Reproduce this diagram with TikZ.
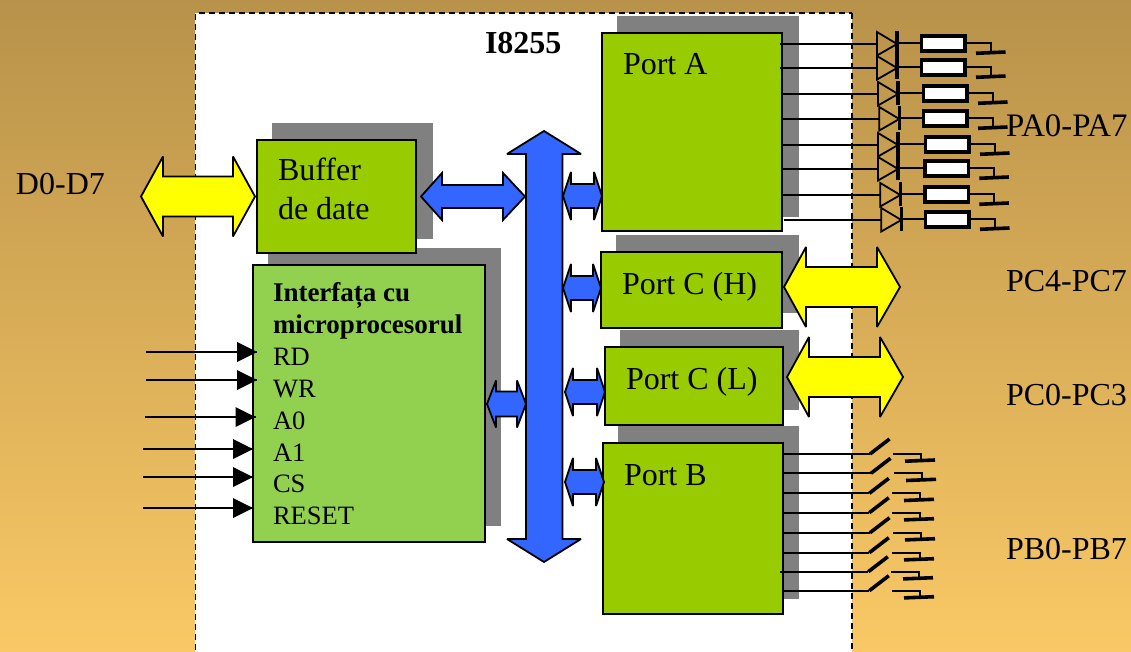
\documentclass[tikz,border=0pt]{standalone}
\usepackage{fontspec}
\setmainfont{Liberation Serif}
\definecolor{bgtop}{RGB}{184,146,74}
\definecolor{bgbot}{RGB}{250,201,102}
\definecolor{shadowgray}{RGB}{128,128,128}
\definecolor{boxgreen}{RGB}{153,204,0}
\definecolor{ifgreen}{RGB}{146,208,80}
\definecolor{busblue}{RGB}{51,102,255}
\definecolor{arrowyellow}{RGB}{255,255,0}
\tikzset{
  block/.style={draw=black,line width=1.8pt,anchor=north west,inner sep=0pt,outer sep=0pt},
  shadowbox/.style={fill=shadowgray,draw=none,anchor=north west,inner sep=0pt,outer sep=0pt},
  lbl/.style={anchor=base west,inner sep=0pt,outer sep=0pt,font=\fontsize{32}{32}\selectfont},
  sml/.style={anchor=base west,inner sep=0pt,outer sep=0pt,font=\fontsize{26.5}{26.5}\selectfont},
  wire/.style={draw=black,line width=1.8pt},
  heavy/.style={draw=black,line width=3.6pt},
  bigarrow/.style={draw=black,line width=1.8pt,line join=miter,miter limit=3},
}
% x0 base0 base1 x1 yc headhalf shafthalf colour
\newcommand{\dblarrow}[8]{%
  \path[bigarrow,fill=#8] (#1,#5) -- (#2,#5-#6) -- (#2,#5-#7) -- (#3,#5-#7) -- (#3,#5-#6)
   -- (#4,#5) -- (#3,#5+#6) -- (#3,#5+#7) -- (#2,#5+#7) -- (#2,#5+#6) -- cycle;}
\newcommand{\shbox}[6]{% name x0 y0 x1 y1 style
  \node[#6,minimum width=#4pt-#2pt,minimum height=#5pt-#3pt] (#1) at (#2,#3) {};}
\begin{document}
\begin{tikzpicture}[x=1pt,y=-1pt]
\useasboundingbox (0,0) rectangle (1131,652);
\fill[top color=bgtop,bottom color=bgbot] (0,0) rectangle (1131,652);
\fill[white] (195,13) rectangle (852,652);
\draw[black,line width=1.6pt,dash pattern=on 6pt off 4pt] (195.5,660) -- (195.5,13) -- (852,13);
\draw[black,line width=2.4pt,dash pattern=on 6pt off 4pt] (852,13) -- (852,660);
% shadows
\shbox{sA}{617}{16}{799}{217}{shadowbox,fill=shadowgray}
\shbox{sH}{616}{235}{799}{313}{shadowbox,fill=shadowgray}
\shbox{sL}{620}{330}{799}{410}{shadowbox,fill=shadowgray}
\shbox{sB}{618}{426}{799}{599}{shadowbox,fill=shadowgray}
\shbox{sBuf}{272}{123}{433}{239}{shadowbox,fill=shadowgray}
\shbox{sIf}{268}{248}{501}{526}{shadowbox,fill=shadowgray}
% blocks
\shbox{portA}{602}{33}{782}{231}{block,fill=boxgreen}
\shbox{portH}{601}{252}{782}{328}{block,fill=boxgreen}
\shbox{portL}{605}{347}{783}{425}{block,fill=boxgreen}
\shbox{portB}{603}{443}{783}{614}{block,fill=boxgreen}
\shbox{buf}{257}{140}{416}{253}{block,fill=boxgreen}
\shbox{intf}{253}{265}{485}{542}{block,fill=ifgreen}
% large arrows
\dblarrow{141}{163}{233}{255}{196.5}{40}{20}{arrowyellow}
\dblarrow{784}{806}{877}{900}{287}{40}{20}{arrowyellow}
\dblarrow{787}{809}{880}{903}{377}{40}{20}{arrowyellow}
\dblarrow{421}{442}{503}{525}{196.5}{23.5}{11.5}{busblue}
% bus
\path[bigarrow,fill=busblue] (544,131) -- (581,154) -- (562.5,154) -- (562.5,539) -- (581,539)
  -- (544,562) -- (507,539) -- (526,539) -- (526,154) -- (507,154) -- cycle;
% small bus arrows
\dblarrow{563}{571}{594}{602}{196}{24}{12}{busblue}
\dblarrow{563}{571}{593}{601}{288}{24}{12}{busblue}
\dblarrow{565}{573}{597}{605}{392}{24}{12}{busblue}
\dblarrow{565}{573}{596}{604}{482}{24}{12}{busblue}
\dblarrow{487}{496}{517}{526}{404}{23.5}{12.5}{busblue}
% control inputs
\foreach \n/\yy/\xs/\xb in {rd/352/146/237,wr/380/146/237,az/417/144.5/235.5,au/449/143/233,cs/477/143/233,rs/508/143/233}{
  \coordinate (in\n) at (\xs,\yy);
  \coordinate (tip\n) at (\xb+20,\yy);
  \draw[wire] (in\n) -- (tip\n);
  \fill[black] (\xb,\yy-10) -- (tip\n) -- (\xb,\yy+10) -- cycle;
}
% Port A: diodes, resistors and grounds
\foreach \i/\yy/\xs/\dd/\dr in {1/44/780/0/0,2/68/780/0/0,3/94/782/1/2,4/119/782/2.3/2,5/145/782/1/4,6/169/782/1/3.3,7/195/783/3.3/3.3,8/220/784/4.3/4}{
  \coordinate (aw\i) at (\xs,\yy);
  \coordinate (ad\i) at (877+\dd,\yy);
  \coordinate (ac\i) at (897+\dd,\yy);
  \draw[wire] (aw\i) -- (ad\i);
  \draw[wire,line join=miter] (877+\dd,\yy-12) -- (ac\i) -- (877+\dd,\yy+11.5) -- cycle;
  \draw[heavy] (897+\dd,\yy-12.5) -- (897+\dd,\yy+11.5);
  \draw[wire] (897+\dd,\yy-0.7) -- (921+\dr,\yy-0.7);
  \draw[draw=black,line width=3.6pt,fill=white] (921.5+\dr,\yy-8) rectangle (965+\dr,\yy+7);
  \draw[wire] (966+\dr,\yy-0.7) -- (991+\dr,\yy-0.7) -- (991+\dr,\yy+8.5);
  \draw[heavy] (976+\dr,\yy+9.3) -- (1005.5+\dr,\yy+8);
}
% Port B: switches and grounds
\foreach \i/\yy/\xs/\dd/\dc in {1/454/782/0/0,2/473.3/783/1/1,3/493.3/782/-0.7/-1,4/512.7/782/-0.7/-1,5/532.7/782/0/0,6/552.7/782/-0.7/-1,7/571.7/780/-1.7/-2,8/590.7/782/-0.7/-1}{
  \coordinate (bw\i) at (\xs,\yy);
  \coordinate (bs\i) at (870+\dd,\yy);
  \draw[wire] (bw\i) -- (bs\i);
  \draw[heavy] (bs\i) -- (889.5+\dd,\yy-15);
  \draw[wire] (893+\dc,\yy) -- (921+\dc,\yy) -- (921+\dc,\yy+6.5);
  \draw[heavy] (905+\dc,\yy+7.2) -- (935+\dc,\yy+6);
}
% texts
\node[lbl,font=\fontsize{32}{32}\selectfont\bfseries] (title) at (485,54) {I8255};
\node[lbl] (tA) at (623,75) {Port A};
\node[lbl] (tH) at (622,294) {Port C (H)};
\node[lbl] (tL) at (626,389) {Port C (L)};
\node[lbl] (tB) at (624,485) {Port B};
\node[lbl] (tb1) at (278,181) {Buffer};
\node[lbl] (tb2) at (278,219) {de date};
\node[lbl] (tD) at (16,195) {D0-D7};
\node[lbl,font=\fontsize{32.8}{32.8}\selectfont] (tPA) at (1006,137) {PA0-PA7};
\node[lbl] (tPH) at (1006,291) {PC4-PC7};
\node[lbl] (tPL) at (1006,405) {PC0-PC3};
\node[lbl] (tPB) at (1006,559) {PB0-PB7};
\node[sml,font=\fontsize{27}{27}\selectfont\bfseries] (ti1) at (273,301) {Interfața cu};
\node[sml,font=\fontsize{27}{27}\selectfont\bfseries] (ti2) at (273,333) {microprocesorul};
\node[sml] (trd) at (273,365) {RD};
\node[sml] (twr) at (273,397) {WR};
\node[sml] (ta0) at (273,429) {A0};
\node[sml] (ta1) at (273,461) {A1};
\node[sml] (tcs) at (273,492) {CS};
\node[sml] (trs) at (273,524) {RESET};
\end{tikzpicture}
\end{document}
